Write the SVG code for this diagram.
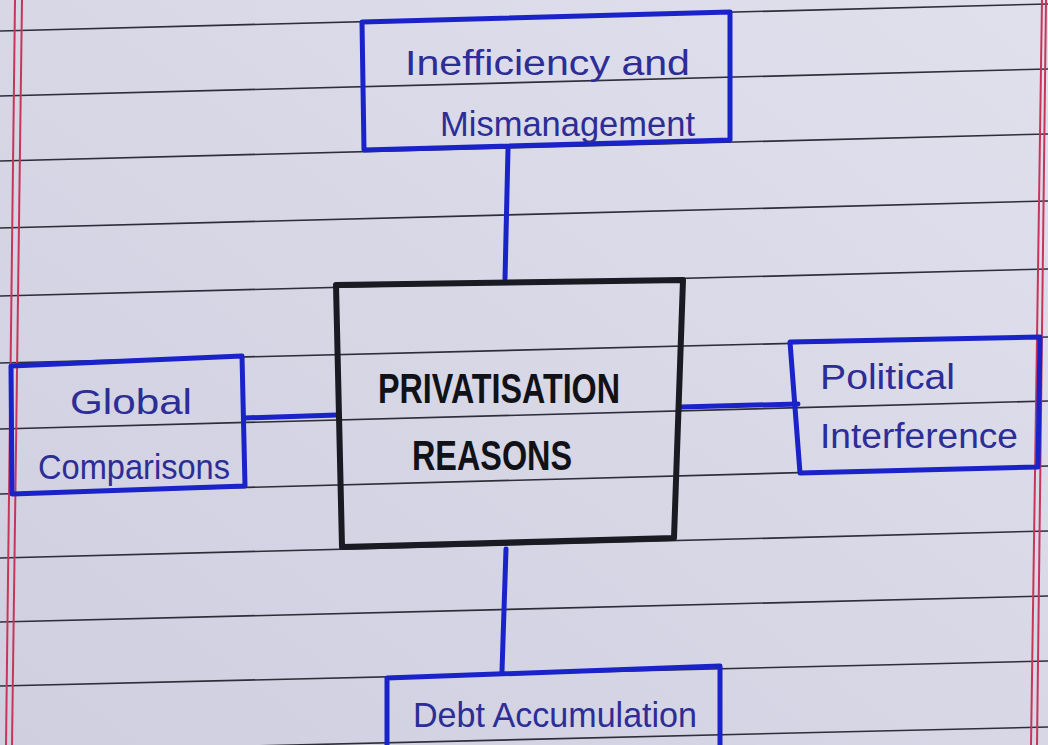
<svg xmlns="http://www.w3.org/2000/svg" width="1048" height="745" viewBox="0 0 1048 745">
  <defs>
    <linearGradient id="paperGrad" x1="0" y1="1" x2="1" y2="0">
      <stop offset="0" stop-color="#cfcfe0"/>
      <stop offset="0.5" stop-color="#d7d7e6"/>
      <stop offset="1" stop-color="#e0e0ed"/>
    </linearGradient>
    <style>
      .rule { stroke: #2e2e3a; stroke-width: 1.6; fill: none; }
      .margin { stroke: #c7365a; stroke-width: 2; fill: none; }
      .blueBox { fill: none; stroke: #1a22c9; stroke-width: 5; stroke-linejoin: round; }
      .blackBox { fill: none; stroke: #1a1a22; stroke-width: 6; stroke-linejoin: round; }
      .conn { stroke: #1a22c9; stroke-width: 5; fill: none; stroke-linecap: round; }
      .hand { font-family: "Liberation Sans", "DejaVu Sans", sans-serif; fill: #2c2d96; font-size: 35px; }
      .title { font-family: "Liberation Sans", "DejaVu Sans", sans-serif; fill: #111118; font-weight: bold; font-size: 42px; }
    </style>
  </defs>

  <g id="paper">
    <rect x="0" y="0" width="1048" height="745" fill="url(#paperGrad)"/>
    <line class="rule" x1="0" y1="31" x2="1048" y2="4"/>
    <line class="rule" x1="0" y1="96" x2="1048" y2="69"/>
    <line class="rule" x1="0" y1="161" x2="1048" y2="134"/>
    <line class="rule" x1="0" y1="228" x2="1048" y2="201"/>
    <line class="rule" x1="0" y1="296" x2="1048" y2="269"/>
    <line class="rule" x1="0" y1="363" x2="1048" y2="337"/>
    <line class="rule" x1="0" y1="429" x2="1048" y2="401"/>
    <line class="rule" x1="0" y1="494" x2="1048" y2="466"/>
    <line class="rule" x1="0" y1="558" x2="1048" y2="531"/>
    <line class="rule" x1="0" y1="622" x2="1048" y2="596"/>
    <line class="rule" x1="0" y1="686" x2="1048" y2="661"/>
    <line class="rule" x1="0" y1="752" x2="1048" y2="727"/>
    <line class="margin" x1="15" y1="0" x2="6" y2="745"/>
    <line class="margin" x1="22" y1="0" x2="12" y2="745"/>
    <line class="margin" x1="1042" y1="0" x2="1031" y2="745"/>
    <line class="margin" x1="1046" y1="0" x2="1037" y2="745"/>
  </g>

  <g id="connectors">
    <path class="conn" d="M508 149 L505 279"/>
    <path class="conn" d="M244 418 L337 415"/>
    <path class="conn" d="M681 407 L798 404"/>
    <path class="conn" d="M506 549 L502 671"/>
  </g>

  <g id="node-inefficiency">
    <path class="blueBox" d="M362 22 L730 12 L730 140 L364 150 Z"/>
    <text class="hand" x="405" y="75" textLength="285" lengthAdjust="spacingAndGlyphs">Inefficiency and</text>
    <text class="hand" x="440" y="136" textLength="255" lengthAdjust="spacingAndGlyphs">Mismanagement</text>
  </g>

  <g id="node-center">
    <path class="blackBox" d="M336 285 L683 280 L674 538 L342 547 Z"/>
    <text class="title" x="378" y="403" textLength="242" lengthAdjust="spacingAndGlyphs">PRIVATISATION</text>
    <text class="title" x="412" y="470" textLength="160" lengthAdjust="spacingAndGlyphs">REASONS</text>
  </g>

  <g id="node-global">
    <path class="blueBox" d="M11 366 L242 356 L245 486 L12 494 Z"/>
    <text class="hand" x="70" y="414" textLength="122" lengthAdjust="spacingAndGlyphs">Global</text>
    <text class="hand" x="38" y="479" textLength="192" lengthAdjust="spacingAndGlyphs">Comparisons</text>
  </g>

  <g id="node-political">
    <path class="blueBox" d="M790 342 L1040 337 L1038 467 L800 473 Z"/>
    <text class="hand" x="820" y="389" textLength="135" lengthAdjust="spacingAndGlyphs">Political</text>
    <text class="hand" x="820" y="448" textLength="198" lengthAdjust="spacingAndGlyphs">Interference</text>
  </g>

  <g id="node-debt">
    <path class="blueBox" d="M387 760 L387 678 L720 666 L720 760"/>
    <text class="hand" x="413" y="727" textLength="284" lengthAdjust="spacingAndGlyphs">Debt Accumulation</text>
  </g>
</svg>
